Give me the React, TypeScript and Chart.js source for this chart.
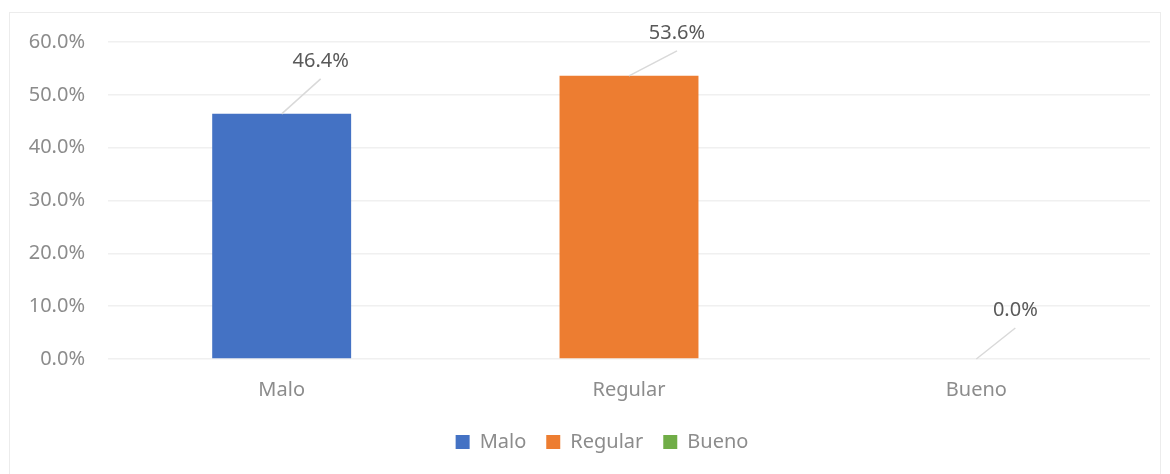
import React, { useEffect, useRef } from "react";
import { Chart, registerables } from "chart.js";

Chart.register(...registerables);

const categories = ["Malo", "Regular", "Bueno"];
const seriesNames = ["Malo", "Regular", "Bueno"];
const maloValues = [46.4, null, null];
const regularValues = [null, 53.6, null];
const buenoValues = [null, null, 0.0];
const yMin = 0;
const yMax = 60;
const yStep = 10;
const seriesColors = ["#4472C4", "#ED7D31", "#70AD47"];

const FONT = '"Noto Sans", "Open Sans", sans-serif';

// leader-line offsets (pixels) for each series' data label
const leaderOffsets = [
  [39, -35],
  [48, -25],
  [39, -31],
];

const leaderPlugin = {
  id: "leaderLabels",
  afterLayout(chart: any) {
    const l = chart.legend;
    if (l) {
      l.left += 22;
      l.right += 22;
    }
  },
  afterDatasetsDraw(chart: any) {
    const ctx = chart.ctx;
    chart.data.datasets.forEach((ds: any, di: number) => {
      const meta = chart.getDatasetMeta(di);
      meta.data.forEach((el: any, i: number) => {
        const v = ds.data[i];
        if (v === null || v === undefined) return;
        const [dx, dy] = leaderOffsets[di];
        const x0 = el.x;
        const y0 = el.y;
        const x1 = x0 + dx;
        const y1 = y0 + dy;
        ctx.save();
        ctx.strokeStyle = "#d9d9d9";
        ctx.lineWidth = 1.5;
        ctx.beginPath();
        ctx.moveTo(x0, y0);
        ctx.lineTo(x1, y1);
        ctx.stroke();
        ctx.fillStyle = "#595959";
        ctx.font = `20px ${FONT}`;
        ctx.textAlign = "center";
        ctx.textBaseline = "middle";
        ctx.fillText(Number(v).toFixed(1) + "%", x1, y1 - 18);
        ctx.restore();
      });
    });
  },
};

export default function App() {
  const ref = useRef<HTMLCanvasElement | null>(null);

  useEffect(() => {
    if (!ref.current) return;
    const seriesData = [maloValues, regularValues, buenoValues];
    const chart = new Chart(ref.current, {
      type: "bar",
      data: {
        labels: categories,
        datasets: seriesNames.map((name, i) => ({
          label: name,
          data: seriesData[i],
          backgroundColor: seriesColors[i],
          borderWidth: 0,
          categoryPercentage: 1,
          barPercentage: 0.4,
          skipNull: true,
        })),
      },
      options: {
        responsive: false,
        animation: false,
        layout: { padding: { top: 29, right: 10, bottom: 12, left: 0 } },
        plugins: {
          tooltip: { enabled: false },
          legend: {
            position: "bottom",
            labels: {
              boxWidth: 14,
              boxHeight: 14,
              padding: 20,
              color: "#8c8c8c",
              font: { family: FONT, size: 20 },
            },
          },
        },
        scales: {
          x: {
            grid: { display: false },
            border: { display: false },
            ticks: {
              color: "#8c8c8c",
              font: { family: FONT, size: 20 },
              padding: 11,
            },
            afterFit: (s: any) => {
              s.height = 53;
            },
          },
          y: {
            min: yMin,
            max: yMax,
            grid: { color: "#f0f0f0", lineWidth: 1.5, drawTicks: false },
            border: { display: false },
            ticks: {
              stepSize: yStep,
              color: "#8c8c8c",
              font: { family: FONT, size: 20 },
              padding: 23,
              callback: (v: any) => Number(v).toFixed(1) + "%",
            },
            afterFit: (s: any) => {
              s.width = 98;
              s.paddingTop = 0;
              s.paddingBottom = 0;
            },
          },
        },
      },
      plugins: [leaderPlugin],
    });
    return () => chart.destroy();
  }, []);

  return (
    <div
      style={{
        position: "relative",
        top: 4,
        left: 1,
        width: 1152,
        height: 470,
        border: "1px solid #ececec",
        boxSizing: "border-box",
        background: "#fff",
      }}
    >
      <canvas ref={ref} width={1150} height={461} style={{ display: "block" }} />
    </div>
  );
}
